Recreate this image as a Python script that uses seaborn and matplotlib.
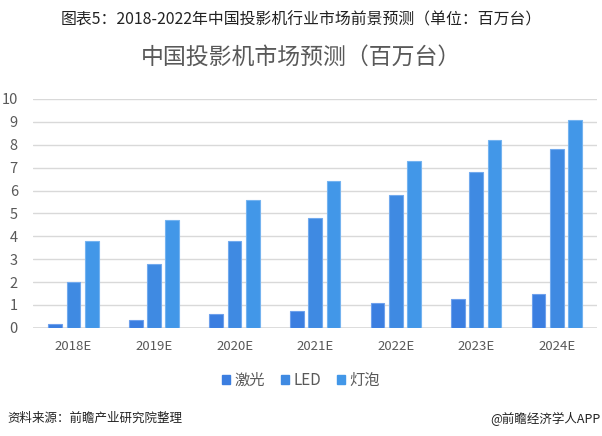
import matplotlib
matplotlib.use("Agg")
import matplotlib.pyplot as plt
import seaborn as sns
import pandas as pd
from matplotlib.patches import Patch

years = ["2018E", "2019E", "2020E", "2021E", "2022E", "2023E", "2024E"]
laser = [0.15, 0.35, 0.6, 0.75, 1.1, 1.25, 1.5]
led = [2.0, 2.8, 3.8, 4.8, 5.8, 6.8, 7.8]
bulb = [3.8, 4.7, 5.6, 6.4, 7.3, 8.2, 9.1]
series = ["激光", "LED", "灯泡"]
colors = ["#3b7ee0", "#3f8ae2", "#4297e8"]
edges = ["#6ea0ec", "#72aaee", "#74b3f0"]

df = pd.DataFrame({
    "year": years * 3,
    "value": laser + led + bulb,
    "series": [series[0]] * 7 + [series[1]] * 7 + [series[2]] * 7,
})

sns.set_theme(style="white")
plt.rcParams['font.family'] = ['Noto Sans CJK SC', 'DejaVu Sans']

fig = plt.figure(figsize=(6.02, 4.36), dpi=100)
ax = fig.add_axes([0.055, 0.248, 0.937, 0.525])

sns.barplot(data=df, x="year", y="value", hue="series", palette=colors,
            width=0.68, ax=ax, legend=False, saturation=1)

bw = 0.17
for i, cont in enumerate(ax.containers):
    for p in cont.patches:
        c = p.get_x() + p.get_width() / 2
        p.set_x(c - bw / 2)
        p.set_width(bw)
        p.set_edgecolor(edges[i])
        p.set_linewidth(0.8)

ax.set_ylim(0, 10)
ax.set_xlim(-0.5, 6.5)
ax.set_yticks(range(0, 11))
ax.yaxis.grid(True, color="#d9d9d9", linewidth=1.0)
ax.set_axisbelow(True)
for s in ax.spines.values():
    s.set_visible(False)
ax.axhline(0, color="#d9d9d9", linewidth=1.2, zorder=0)
ax.set_xlabel("")
ax.set_ylabel("")
ax.tick_params(axis="y", labelsize=10.5, colors="#595959", pad=11, length=0)
ax.tick_params(axis="x", labelsize=9.5, colors="#595959", pad=9, length=0)

fig.text(0.5, 0.955, "图表5：2018-2022年中国投影机行业市场前景预测（单位：百万台）",
         ha="center", va="center", fontsize=11.4, color="#222222", fontweight="light")
fig.text(0.5, 0.868, "中国投影机市场预测（百万台）",
         ha="center", va="center", fontsize=16.5, color="#595959")

handles = [Patch(facecolor=c, edgecolor=c) for c in colors]
fig.legend(handles, series, loc="center", bbox_to_anchor=(0.5, 0.128), ncol=3,
           frameon=False, fontsize=11, handlelength=0.55, handleheight=0.55,
           handletextpad=0.3, columnspacing=1.0, labelcolor="#595959")

fig.text(0.012, 0.04, "资料来源：前瞻产业研究院整理", ha="left", va="center",
         fontsize=9, color="#222222", style="italic")
fig.text(0.998, 0.04, "@前瞻经济学人APP", ha="right", va="center",
         fontsize=9, color="#222222")

fig.savefig("out.png", dpi=100)
